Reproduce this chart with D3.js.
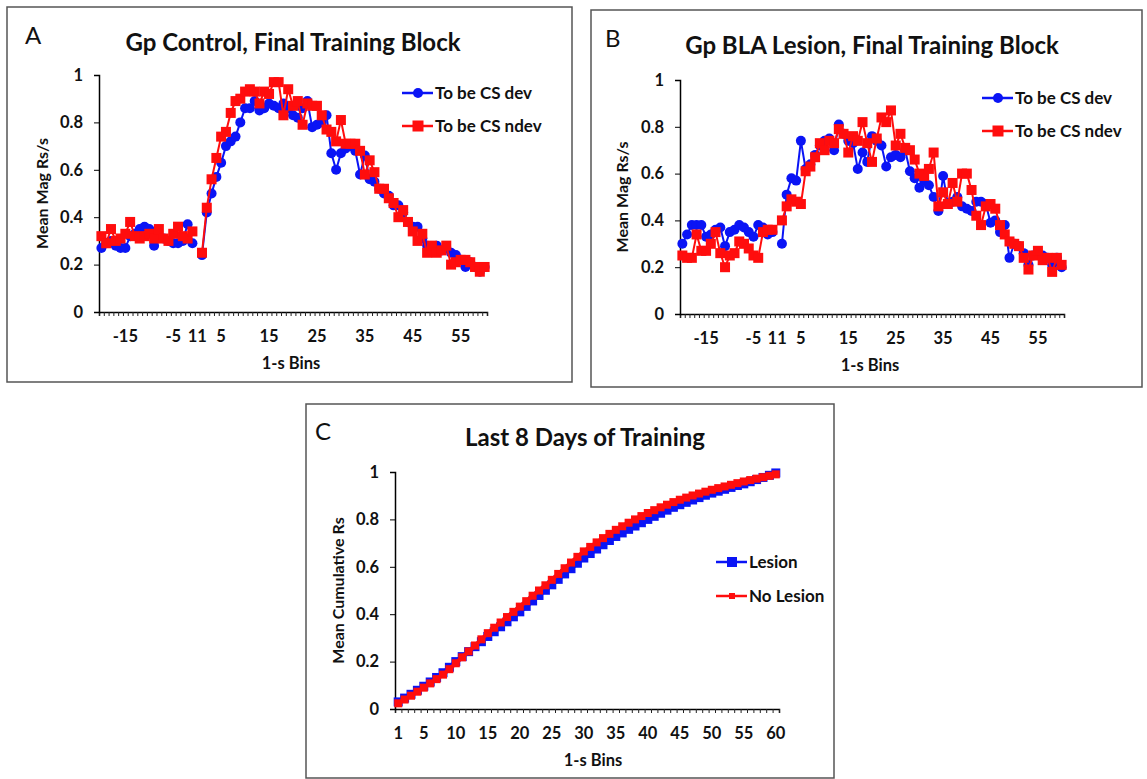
<!DOCTYPE html>
<html>
<head>
<meta charset="utf-8">
<script src="https://cdn.jsdelivr.net/npm/d3@7"></script>
<style>
  body { margin: 0; background: #fff; }
  svg text { font-family: Lato, "Open Sans", sans-serif; fill: #111; }
</style>
</head>
<body>
<svg id="chart" width="1147" height="779"></svg>
<script>
// ---- data: mean magazine responses per 1-s bin (pre-CS bins -20..-1, then CS bins 1..60)
const ctrlDevPre  = [0.27, 0.29, 0.30, 0.28, 0.27, 0.27, 0.32, 0.33, 0.35, 0.36, 0.35, 0.28, 0.32, 0.31, 0.30, 0.29, 0.29, 0.30, 0.37, 0.29];
const ctrlNdevPre = [0.32, 0.29, 0.35, 0.30, 0.31, 0.33, 0.38, 0.32, 0.31, 0.32, 0.33, 0.31, 0.35, 0.31, 0.30, 0.33, 0.36, 0.32, 0.31, 0.34];
const ctrlDevCS = [0.24, 0.42, 0.50, 0.57, 0.63, 0.70, 0.72, 0.74, 0.80, 0.86,
                   0.86, 0.89, 0.85, 0.86, 0.88, 0.87, 0.86, 0.88, 0.86, 0.83,
                   0.82, 0.86, 0.89, 0.78, 0.79, 0.80, 0.83, 0.67, 0.60, 0.67,
                   0.69, 0.70, 0.68, 0.58, 0.66, 0.56, 0.55, 0.52, 0.50, 0.49,
                   0.45, 0.45, 0.42, 0.38, 0.36, 0.36, 0.31, 0.28, 0.27, 0.28,
                   0.26, 0.27, 0.25, 0.24, 0.22, 0.19, 0.21, 0.19, 0.17, 0.19];
const ctrlNdevCS = [0.25, 0.44, 0.56, 0.65, 0.74, 0.76, 0.84, 0.89, 0.90, 0.93,
                    0.94, 0.93, 0.88, 0.93, 0.92, 0.97, 0.97, 0.83, 0.94, 0.87,
                    0.89, 0.79, 0.88, 0.87, 0.87, 0.83, 0.77, 0.76, 0.72, 0.81,
                    0.71, 0.71, 0.71, 0.68, 0.58, 0.64, 0.59, 0.52, 0.52, 0.48,
                    0.46, 0.40, 0.43, 0.38, 0.34, 0.30, 0.33, 0.25, 0.28, 0.25,
                    0.26, 0.28, 0.20, 0.21, 0.22, 0.22, 0.21, 0.19, 0.17, 0.19];

const blaDevPre  = [0.30, 0.34, 0.38, 0.38, 0.38, 0.33, 0.34, 0.36, 0.37, 0.29, 0.35, 0.36, 0.38, 0.37, 0.35, 0.33, 0.38, 0.37, 0.34, 0.35];
const blaNdevPre = [0.25, 0.24, 0.24, 0.34, 0.27, 0.27, 0.30, 0.35, 0.26, 0.20, 0.25, 0.26, 0.31, 0.30, 0.28, 0.25, 0.24, 0.35, 0.36, 0.36];
const blaDevCS = [0.30, 0.51, 0.58, 0.57, 0.74, 0.62, 0.64, 0.68, 0.72, 0.74,
                  0.75, 0.70, 0.81, 0.77, 0.74, 0.73, 0.62, 0.69, 0.65, 0.76,
                  0.74, 0.72, 0.63, 0.67, 0.68, 0.67, 0.70, 0.61, 0.58, 0.54,
                  0.57, 0.55, 0.50, 0.44, 0.59, 0.47, 0.48, 0.50, 0.46, 0.45,
                  0.44, 0.48, 0.48, 0.47, 0.39, 0.40, 0.35, 0.38, 0.24, 0.30,
                  0.29, 0.26, 0.21, 0.25, 0.26, 0.25, 0.24, 0.21, 0.24, 0.20];
const blaNdevCS = [0.40, 0.46, 0.49, 0.48, 0.47, 0.61, 0.63, 0.67, 0.73, 0.70,
                   0.74, 0.73, 0.79, 0.77, 0.69, 0.76, 0.74, 0.82, 0.73, 0.65,
                   0.75, 0.84, 0.82, 0.87, 0.72, 0.77, 0.71, 0.70, 0.66, 0.60,
                   0.59, 0.62, 0.69, 0.46, 0.52, 0.47, 0.56, 0.48, 0.60, 0.60,
                   0.53, 0.42, 0.38, 0.46, 0.47, 0.45, 0.38, 0.34, 0.31, 0.30,
                   0.29, 0.24, 0.19, 0.25, 0.27, 0.23, 0.24, 0.18, 0.24, 0.21];

// cumulative responses, bins 1..60
const lesionCum = [0.030, 0.046, 0.062, 0.079, 0.096, 0.114, 0.133, 0.153, 0.176, 0.200,
                   0.221, 0.242, 0.263, 0.284, 0.306, 0.326, 0.347, 0.368, 0.389, 0.410,
                   0.433, 0.456, 0.479, 0.501, 0.524, 0.547, 0.570, 0.592, 0.615, 0.637,
                   0.656, 0.675, 0.693, 0.711, 0.728, 0.743, 0.758, 0.772, 0.786, 0.800,
                   0.813, 0.826, 0.839, 0.851, 0.862, 0.872, 0.882, 0.892, 0.902, 0.911,
                   0.919, 0.927, 0.935, 0.943, 0.950, 0.959, 0.968, 0.977, 0.986, 0.996];
const noLesionCum = [0.024, 0.040, 0.056, 0.073, 0.090, 0.108, 0.126, 0.145, 0.168, 0.193,
                     0.218, 0.243, 0.268, 0.294, 0.320, 0.343, 0.365, 0.388, 0.410, 0.432,
                     0.455, 0.478, 0.500, 0.522, 0.545, 0.570, 0.594, 0.618, 0.642, 0.665,
                     0.684, 0.703, 0.721, 0.739, 0.756, 0.771, 0.786, 0.800, 0.814, 0.827,
                     0.839, 0.851, 0.862, 0.873, 0.883, 0.892, 0.901, 0.909, 0.917, 0.925,
                     0.932, 0.939, 0.946, 0.953, 0.960, 0.966, 0.972, 0.978, 0.984, 0.990];

// tick labels (category index -> text); index 20 is the empty slot between pre-CS and CS
const tickIdxAB  = [5, 15, 20, 25, 35, 45, 55, 65, 75];
const tickTextAB = ["-15", "-5", "11", "5", "15", "25", "35", "45", "55"];
const tickIdxC   = [0, 4, 9, 14, 19, 24, 29, 34, 39, 44, 49, 54, 59];
const tickTextC  = ["1", "5", "10", "15", "20", "25", "30", "35", "40", "45", "50", "55", "60"];
const yTicks = [0, 0.2, 0.4, 0.6, 0.8, 1];

const BLUE = "#0a14f5";
const RED = "#ff0d0d";

const svg = d3.select("#chart");

// pre values, a gap, then CS values
const joinBins = (pre, cs) => [...pre, null, ...cs];

function drawPanel(p) {
  const g = svg.append("g");

  g.append("rect")
    .attr("x", p.box[0]).attr("y", p.box[1])
    .attr("width", p.box[2] - p.box[0]).attr("height", p.box[3] - p.box[1])
    .attr("fill", "none").attr("stroke", "#555").attr("stroke-width", 1.5);

  g.append("text").attr("x", p.letter[0]).attr("y", p.letter[1])
    .text(p.letterText).style("font-size", "24px");

  g.append("text").attr("x", p.titleX).attr("y", p.titleY)
    .attr("text-anchor", "middle").text(p.title)
    .style("font-size", "24px").style("font-weight", "700");

  const n = p.series[0].values.length;
  const x = d3.scaleBand().domain(d3.range(n)).range([p.x0, p.x1]);
  const xEdge = d3.scaleLinear().domain([0, n]).range([p.x0, p.x1]);
  const y = d3.scaleLinear().domain([0, 1]).range([p.y0, p.y1]);
  const cx = i => x(i) + x.bandwidth() / 2;

  // little ticks at every category boundary
  g.append("g")
    .attr("transform", `translate(0,${p.y0})`)
    .call(d3.axisBottom(xEdge).tickValues(d3.range(n + 1)).tickSize(4).tickFormat(""))
    .call(a => a.select(".domain").attr("stroke-width", 1.5))
    .call(a => a.selectAll(".tick line").attr("stroke", "#222"));

  g.append("g")
    .attr("transform", `translate(0,${p.y0})`)
    .call(d3.axisBottom(x).tickValues(p.tickIdx).tickSize(0).tickPadding(18)
      .tickFormat((d, i) => p.tickText[i]))
    .call(a => a.select(".domain").remove())
    .selectAll("text")
    .style("font-size", "16.5px").style("font-weight", "700")
    .style("font-family", "Lato, sans-serif").attr("fill", "#111");

  g.append("g")
    .attr("transform", `translate(${p.x0},0)`)
    .call(d3.axisLeft(y).tickValues(yTicks).tickSize(5).tickPadding(11)
      .tickFormat(d => (d === 0 || d === 1) ? d : d3.format(".1f")(d)))
    .call(a => a.select(".domain").attr("stroke-width", 1.5))
    .selectAll("text")
    .style("font-size", "16.5px").style("font-weight", "700")
    .style("font-family", "Lato, sans-serif").attr("fill", "#111");

  g.append("text").attr("x", (p.x0 + p.x1) / 2 + p.xTitleDx).attr("y", p.y0 + 57)
    .attr("text-anchor", "middle").text("1-s Bins")
    .style("font-size", "16.5px").style("font-weight", "700");

  g.append("text")
    .attr("transform", `translate(${p.yTitleX},${(p.y0 + p.y1) / 2}) rotate(-90)`)
    .attr("text-anchor", "middle").text(p.yTitle)
    .style("font-size", "16px").style("font-weight", "700");

  const line = d3.line()
    .defined(d => d != null)
    .x((d, i) => cx(i))
    .y(d => y(d));

  p.series.forEach(s => {
    g.append("path")
      .attr("d", line(s.values))
      .attr("fill", "none").attr("stroke", s.color).attr("stroke-width", s.lw);

    const pts = s.values.map((v, i) => ({ v, i })).filter(d => d.v != null);
    if (s.shape === "circle") {
      g.append("g").selectAll("circle").data(pts).join("circle")
        .attr("cx", d => cx(d.i)).attr("cy", d => y(d.v))
        .attr("r", s.size / 2).attr("fill", s.color);
    } else {
      g.append("g").selectAll("rect").data(pts).join("rect")
        .attr("x", d => cx(d.i) - s.size / 2).attr("y", d => y(d.v) - s.size / 2)
        .attr("width", s.size).attr("height", s.size).attr("fill", s.color);
    }
  });

  // legend
  p.series.forEach((s, k) => {
    const ly = p.legend[1] + k * p.legendGap;
    const lx = p.legend[0];
    g.append("line").attr("x1", lx).attr("x2", lx + 31).attr("y1", ly).attr("y2", ly)
      .attr("stroke", s.color).attr("stroke-width", 2.5);
    if (s.shape === "circle") {
      g.append("circle").attr("cx", lx + 16).attr("cy", ly).attr("r", s.size / 2).attr("fill", s.color);
    } else {
      g.append("rect").attr("x", lx + 16 - s.legendSize / 2).attr("y", ly - s.legendSize / 2)
        .attr("width", s.legendSize).attr("height", s.legendSize).attr("fill", s.color);
    }
    g.append("text").attr("x", lx + 33).attr("y", ly).attr("dy", "0.35em")
      .text(s.name).style("font-size", "17px").style("font-weight", "700");
  });
}

drawPanel({
  box: [7, 7, 572, 382], letter: [25, 44], letterText: "A",
  title: "Gp Control, Final Training Block", titleX: 293, titleY: 51,
  x0: 99, x1: 487, y0: 312, y1: 75,
  tickIdx: tickIdxAB, tickText: tickTextAB, xTitleDx: -2,
  yTitle: "Mean Mag Rs/s", yTitleX: 48,
  legend: [402, 93], legendGap: 33,
  series: [
    { name: "To be CS dev", values: joinBins(ctrlDevPre, ctrlDevCS), color: BLUE, shape: "circle", size: 10, lw: 2 },
    { name: "To be CS ndev", values: joinBins(ctrlNdevPre, ctrlNdevCS), color: RED, shape: "square", size: 10, legendSize: 11, lw: 2 }
  ]
});

drawPanel({
  box: [591, 10, 1142, 387], letter: [605, 47], letterText: "B",
  title: "Gp BLA Lesion, Final Training Block", titleX: 872, titleY: 54,
  x0: 680, x1: 1064, y0: 314, y1: 80,
  tickIdx: tickIdxAB, tickText: tickTextAB, xTitleDx: -2,
  yTitle: "Mean Mag Rs/s", yTitleX: 628,
  legend: [982, 98], legendGap: 33,
  series: [
    { name: "To be CS dev", values: joinBins(blaDevPre, blaDevCS), color: BLUE, shape: "circle", size: 10, lw: 2 },
    { name: "To be CS ndev", values: joinBins(blaNdevPre, blaNdevCS), color: RED, shape: "square", size: 10, legendSize: 11, lw: 2 }
  ]
});

drawPanel({
  box: [306, 404, 834, 778], letter: [315, 440], letterText: "C",
  title: "Last 8 Days of Training", titleX: 585, titleY: 446,
  x0: 395, x1: 779, y0: 709, y1: 472,
  tickIdx: tickIdxC, tickText: tickTextC, xTitleDx: 6,
  yTitle: "Mean Cumulative Rs", yTitleX: 344,
  legend: [716, 562], legendGap: 34,
  series: [
    { name: "Lesion", values: lesionCum, color: BLUE, shape: "square", size: 9, legendSize: 10, lw: 4 },
    { name: "No Lesion", values: noLesionCum, color: RED, shape: "square", size: 8, legendSize: 6, lw: 4 }
  ]
});
</script>
</body>
</html>
